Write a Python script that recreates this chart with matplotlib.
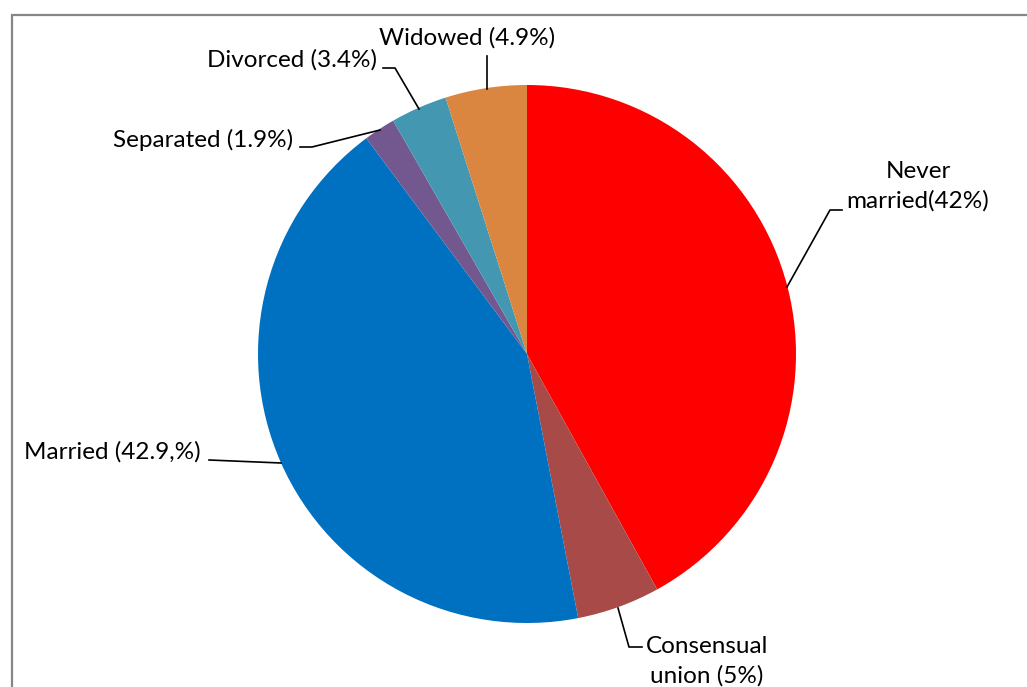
import matplotlib.pyplot as plt
from matplotlib.patches import Rectangle

# marital status shares (%), clockwise from 12 o'clock
categories = ["Never married", "Consensual union", "Married", "Separated", "Divorced", "Widowed"]
shares = [42, 5, 42.9, 1.9, 3.4, 4.9]
labels = ["Never\nmarried(42%)", "Consensual\nunion (5%)", "Married (42.9,%)",
          "Separated (1.9%)", "Divorced (3.4%)", "Widowed (4.9%)"]
colors = ["#FF0000", "#A84B48", "#0070C0", "#72588F", "#4397B0", "#DA8641"]

W, H = 1027, 687
plt.rcParams['font.family'] = ['Lato', 'DejaVu Sans']

fig = plt.figure(figsize=(W / 100, H / 100), dpi=100)
ax = fig.add_axes([0, 0, 1, 1])


def py(y):
    # pixel row -> data y
    return H - y


ax.pie(shares, colors=colors, startangle=90, counterclock=False,
       center=(527, py(354)), radius=269, frame=True,
       wedgeprops=dict(linewidth=0))
ax.set_xlim(0, W)
ax.set_ylim(0, H)
ax.set_aspect("equal")
ax.axis("off")

# chart border
ax.add_patch(Rectangle((12, py(700)), 1030, 685, fill=False,
                       edgecolor="#868686", linewidth=1.6, clip_on=False))

fs = 17.5
# label text positions (pixel) and leader lines
label_pos = {
    0: (918, 186, "center"),
    1: (707, 661, "center"),
    2: (201, 452, "right"),
    3: (293, 140, "right"),
    4: (377, 60, "right"),
    5: (467, 38, "center"),
}
leaders = {
    0: [(842, 210), (830, 210), (787, 287)],
    1: [(618, 608), (629, 647), (642, 647)],
    2: [(209, 460), (281, 463)],
    3: [(300, 147), (312, 147), (380, 130)],
    4: [(383, 68), (395, 68), (419, 109)],
    5: [(487, 56), (487, 89)],
}

for i, lab in enumerate(labels):
    x, y, ha = label_pos[i]
    ax.text(x, py(y), lab, ha=ha, va="center", fontsize=fs, color="black",
            linespacing=1.45, multialignment="center")
    xs = [p[0] for p in leaders[i]]
    ys = [py(p[1]) for p in leaders[i]]
    ax.plot(xs, ys, color="black", linewidth=1.2)

fig.savefig("out.png", dpi=100)
